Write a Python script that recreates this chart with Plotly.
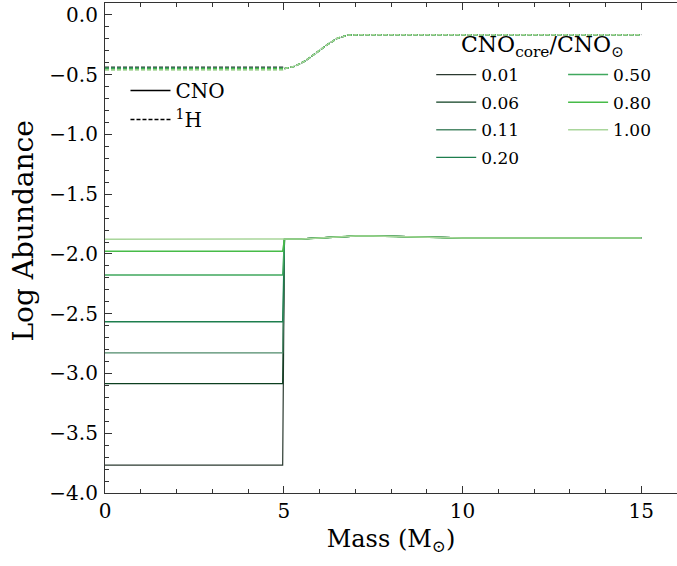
import plotly.graph_objects as go

# CNO enhancement factors of the core and their line colours
ratios = ["0.01", "0.06", "0.11", "0.20", "0.50", "0.80", "1.00"]
colors = ["#2b3a30", "#0d3f20", "#4f8a6b", "#1d7e4e", "#40a85e", "#47bb48", "#a9d69b"]

# log abundances inside the core (M < 5 Msun)
cno_core = [-3.766, -3.085, -2.828, -2.567, -2.176, -1.977, -1.877]
h_core = [-0.437, -0.440, -0.443, -0.447, -0.452, -0.456, -0.460]

# edge of the core
core_mass = [0.0, 4.97]

# envelope profile shared by all models
env_mass = [5.02, 5.3, 5.5, 6.0, 6.5, 7.0, 7.5, 8.0, 8.5, 9.0, 9.5, 10.0, 12.0, 15.0]
env_cno = [-1.877, -1.876, -1.874, -1.866, -1.856, -1.850, -1.849, -1.852, -1.858, -1.863, -1.865, -1.866, -1.866, -1.866]

h_env_mass = [5.0, 5.3, 5.6, 5.9, 6.2, 6.5, 6.8, 7.2, 10.0, 15.0]
h_env = [-0.450, -0.430, -0.385, -0.320, -0.252, -0.195, -0.168, -0.165, -0.165, -0.165]

FONT = "DejaVu Serif"
DASH = "4px,2px"

fig = go.Figure()

for i, r in enumerate(ratios):
    fig.add_trace(go.Scatter(
        x=core_mass + h_env_mass,
        y=[h_core[i], h_core[i]] + h_env,
        mode="lines",
        line=dict(color=colors[i], width=1.2 + 0.05 * i, dash=DASH),
        showlegend=False,
        hoverinfo="skip",
    ))

for i, r in enumerate(ratios):
    fig.add_trace(go.Scatter(
        x=core_mass + env_mass,
        y=[cno_core[i], cno_core[i]] + env_cno,
        mode="lines",
        line=dict(color=colors[i], width=1.2 + 0.05 * i),
        name=r,
        legend="legend2" if i < 4 else "legend3",
        legendgroup="r" + r,
    ))

# line-style key
fig.add_trace(go.Scatter(x=[None], y=[None], mode="lines", name="CNO",
                         line=dict(color="black", width=1.3), legend="legend", legendgroup="k1"))
fig.add_trace(go.Scatter(x=[None], y=[None], mode="lines", name="<sup>1</sup>H",
                         line=dict(color="black", width=1.3, dash=DASH), legend="legend", legendgroup="k2"))

L, R, T, B = 104.5, 677.0, 3.0, 493.0


def px(x):
    return (x - L) / (R - L)


def py(y):
    return (B - y) / (B - T)


leg_common = dict(bgcolor="rgba(0,0,0,0)", borderwidth=0, xanchor="left", yanchor="top",
                  itemwidth=40)

fig.update_layout(
    width=677, height=566,
    margin=dict(l=104.5, r=0, t=3, b=73),
    paper_bgcolor="white", plot_bgcolor="white",
    font=dict(family=FONT, color="black", size=20),
    legend=dict(x=px(125), y=py(71), font=dict(family=FONT, size=20), tracegroupgap=0, **leg_common),
    legend2=dict(x=px(431), y=py(57), font=dict(family=FONT, size=17), tracegroupgap=2.5, **leg_common),
    legend3=dict(x=px(563), y=py(57), font=dict(family=FONT, size=17), tracegroupgap=2.5, **leg_common),
    annotations=[
        dict(x=px(542), y=py(47), xref="paper", yref="paper", showarrow=False,
             text="CNO<sub>core</sub>/CNO<sub>⊙</sub>", font=dict(family=FONT, size=22),
             xanchor="center", yanchor="middle"),
        dict(x=-(L - 22) / (R - L), y=py(231), xref="paper", yref="paper", showarrow=False,
             text="Log Abundance", textangle=-90, font=dict(family=FONT, size=28),
             xanchor="center", yanchor="middle"),
    ],
)

fig.update_xaxes(
    range=[0, 16], tickvals=[0, 5, 10, 15], ticktext=["0", "5", "10", "15"],
    ticks="inside", ticklen=7, tickwidth=1, tickcolor="#333",
    showline=True, linecolor="#333", linewidth=1.2, mirror="allticks",
    showgrid=False, zeroline=False,
    minor=dict(dtick=1, tick0=0, ticks="inside", ticklen=4, tickcolor="#333", showgrid=False),
    title=dict(text="Mass (M<sub>⊙</sub>)", font=dict(family=FONT, size=24), standoff=8),
    tickfont=dict(family=FONT, size=20),
)
fig.update_yaxes(
    range=[-4.0, 0.1], tickvals=[-4.0, -3.5, -3.0, -2.5, -2.0, -1.5, -1.0, -0.5, 0.0],
    ticktext=["−4.0", "−3.5", "−3.0", "−2.5", "−2.0", "−1.5", "−1.0", "−0.5", "0.0"],
    ticks="inside", ticklen=7, tickwidth=1, tickcolor="#333",
    showline=True, linecolor="#333", linewidth=1.2,
    showgrid=False, zeroline=False,
    minor=dict(dtick=0.1, tick0=0, ticks="inside", ticklen=4, tickcolor="#333", showgrid=False),
    ticklabelstandoff=2,
    tickfont=dict(family=FONT, size=20),
)

fig.write_html("out.html")
